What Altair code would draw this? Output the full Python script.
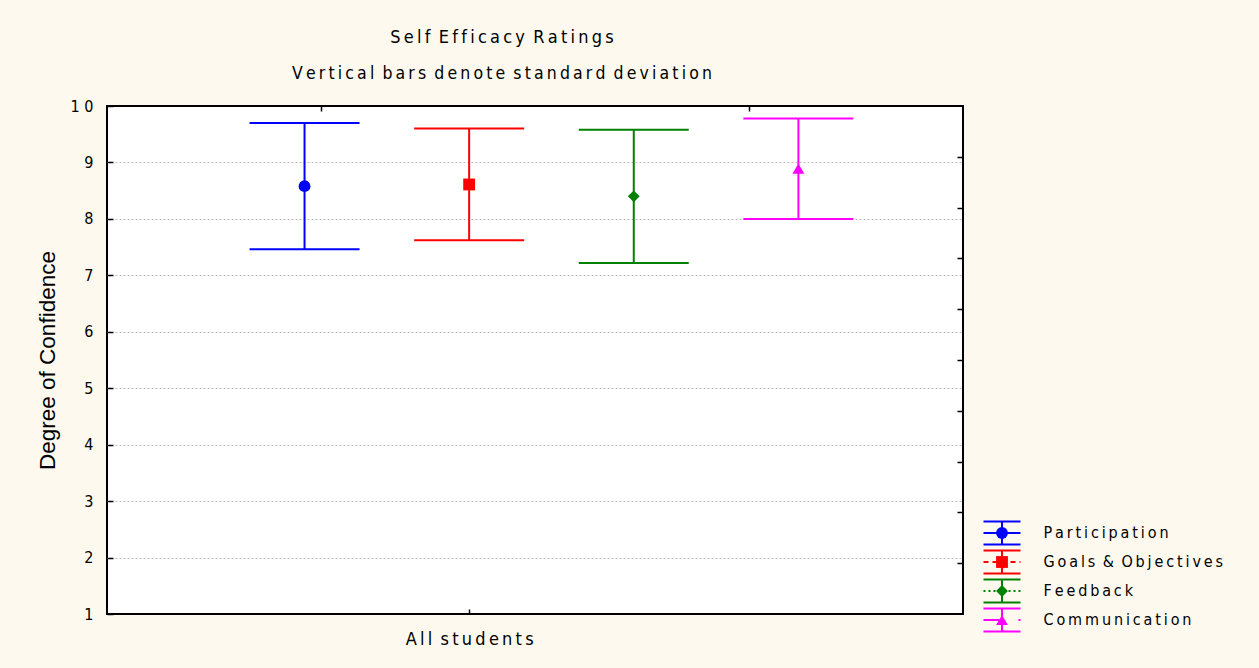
import altair as alt
import pandas as pd

# ---- data -------------------------------------------------------------
series = ["Participation", "Goals & Objectives", "Feedback", "Communication"]
means = [8.58, 8.61, 8.40, 8.89]
std_devs = [1.12, 0.99, 1.18, 0.89]
slot = [1, 2, 3, 4]                      # horizontal slot of each series
group_label = "All students"
group_slot = 2
colors = ["#0000FF", "#FF0000", "#008000", "#FF00FF"]
markers = ["circle", "square", "diamond", "triangle-up"]
dashes = [[1, 0], [5, 4], [2, 3], [16, 19, 2, 10]]

y_ticks = [1, 2, 3, 4, 5, 6, 7, 8, 9, 10]
grid_values = [2, 3, 4, 5, 6, 7, 8, 9]
right_ticks = [9.1, 8.2, 7.3, 6.4, 5.5, 4.6, 3.7, 2.8, 1.9]
top_ticks = [1.1, 3.7]

NARROW = "DejaVu Sans Condensed, DejaVu Sans, sans-serif"
PLAIN = "Liberation Sans, Arial, sans-serif"
W, H = 856, 508
X_DOMAIN = [-0.2, 5.0]
Y_DOMAIN = [1, 10]


def spaced(text):
    """Letter-spaced rendering of a label (wider gap between words)."""
    return "\u2009 ".join("\u2009".join(word) for word in text.split(" "))


df = pd.DataFrame({
    "series": series,
    "mean": means,
    "sd": std_devs,
    "slot": slot,
    "marker": markers,
    "legend_label": [spaced(s) for s in series],
})

base = alt.Chart(df).transform_calculate(
    lo="datum.mean - datum.sd",
    hi="datum.mean + datum.sd",
)

x_scale = alt.Scale(domain=X_DOMAIN, nice=False, zero=False)
y_scale = alt.Scale(domain=Y_DOMAIN, nice=False, zero=False)
color = alt.Color("series:N", scale=alt.Scale(domain=series, range=colors), legend=None)

inward = dict(labels=False, domain=False, grid=False, title=None,
              tickColor="black", tickWidth=1.5)

# vertical bars, carrying the labelled axes
bars = base.mark_rule(strokeWidth=2).encode(
    x=alt.X("slot:Q", scale=x_scale, axis=alt.Axis(
        values=[group_slot], labelExpr=f"'{spaced(group_label)}'", tickSize=0,
        labelPadding=16, labelFont=NARROW, labelFontSize=18, labelColor="black",
        domain=False, grid=False, title=None)),
    y=alt.Y("lo:Q", scale=y_scale, axis=alt.Axis(
        values=y_ticks, labelExpr="join(split(datum.label, ''), ' ')", tickSize=0,
        labelPadding=14, labelFont=NARROW, labelFontSize=16, labelColor="black",
        domain=False, grid=False,
        title="Degree of Confidence", titleFont=PLAIN, titleFontSize=22.5,
        titleFontWeight="normal", titleColor="black", titleAngle=270,
        titleX=-60, titleY=H / 2, titleAlign="center", titleBaseline="middle")),
    y2="hi:Q",
    color=color,
)

# lower caps; their axes put inward ticks on the left and bottom edges
caps_lo = base.mark_tick(size=110, thickness=2, orient="horizontal", opacity=1).encode(
    x=alt.X("slot:Q", scale=x_scale, axis=alt.Axis(
        orient="top", offset=-H, values=[group_slot], tickSize=5, **inward)),
    y=alt.Y("lo:Q", scale=y_scale, axis=alt.Axis(
        orient="right", offset=-W, values=y_ticks, tickSize=6, **inward)),
    color=color,
)

# upper caps; their y axis draws the dotted grid
caps_hi = base.mark_tick(size=110, thickness=2, orient="horizontal", opacity=1).encode(
    x=alt.X("slot:Q", scale=x_scale, axis=None),
    y=alt.Y("hi:Q", scale=y_scale, axis=alt.Axis(
        values=grid_values, labels=False, ticks=False, domain=False, title=None,
        grid=True, gridColor="#BDBDBD", gridDash=[2, 2], gridWidth=1)),
    color=color,
)

# means; their axes put inward ticks on the top and right edges
points = base.mark_point(filled=True, size=140, opacity=1).encode(
    x=alt.X("slot:Q", scale=x_scale, axis=alt.Axis(
        orient="bottom", offset=-H, values=top_ticks, tickSize=5, **inward)),
    y=alt.Y("mean:Q", scale=y_scale, axis=alt.Axis(
        orient="left", offset=-W, values=right_ticks, tickSize=6, **inward)),
    color=color,
    shape=alt.Shape("marker:N", scale=None),
)

# ---- legend: one row per series, drawn as a small error-bar glyph -------
LEG_X, LEG_HALF, LEG_CAP = 895, 18.5, 11.5
legend_y = alt.Y("series:N", scale=alt.Scale(type="point", domain=series,
                                             range=[427, 514], padding=0),
                 axis=None)
leg = alt.Chart(df)

leg_cap_top = leg.mark_tick(size=2 * LEG_HALF, thickness=2, orient="horizontal",
                            opacity=1, yOffset=-LEG_CAP).encode(
    x=alt.value(LEG_X), y=legend_y, color=color)
leg_cap_bot = leg.mark_tick(size=2 * LEG_HALF, thickness=2, orient="horizontal",
                            opacity=1, yOffset=LEG_CAP).encode(
    x=alt.value(LEG_X), y=legend_y, color=color)
leg_stem = leg.mark_rule(strokeWidth=2, yOffset=-LEG_CAP, y2Offset=LEG_CAP).encode(
    x=alt.value(LEG_X), y=legend_y, y2=alt.Y2("series"), color=color)
leg_line = leg.mark_rule(strokeWidth=2).encode(
    x=alt.value(LEG_X - LEG_HALF), x2=alt.value(LEG_X + LEG_HALF), y=legend_y,
    color=color,
    strokeDash=alt.StrokeDash("series:N", scale=alt.Scale(domain=series, range=dashes),
                              legend=None),
)
leg_mark = leg.mark_point(filled=True, size=140, opacity=1).encode(
    x=alt.value(LEG_X), y=legend_y, color=color,
    shape=alt.Shape("marker:N", scale=None))
leg_text = leg.mark_text(align="left", baseline="middle", font=NARROW, fontSize=16,
                         color="black").encode(
    x=alt.value(LEG_X + LEG_HALF + 23), y=legend_y, text="legend_label:N")

chart = alt.layer(
    bars, caps_lo, caps_hi, points,
    leg_line, leg_stem, leg_cap_top, leg_cap_bot, leg_mark, leg_text,
).resolve_scale(
    y="independent"
).resolve_axis(
    x="independent", y="independent"
).properties(
    width=W,
    height=H,
    title=alt.Title(
        text=spaced("Self Efficacy Ratings"),
        subtitle=spaced("Vertical bars denote standard deviation"),
        anchor="middle", frame="group", dx=-33, offset=16,
        font=NARROW, fontSize=18, fontWeight="normal", color="black",
        subtitleFont=NARROW, subtitleFontSize=17.5, subtitleColor="black",
        subtitlePadding=18,
    ),
    autosize=alt.AutoSizeParams(type="none"),
    padding={"left": 107, "top": 106, "right": 296, "bottom": 54},
    background="#FDF9EE",
).configure_view(
    stroke="black", strokeWidth=2, fill="white"
)

chart.save("out.html", embed_options={"renderer": "svg", "actions": False})
